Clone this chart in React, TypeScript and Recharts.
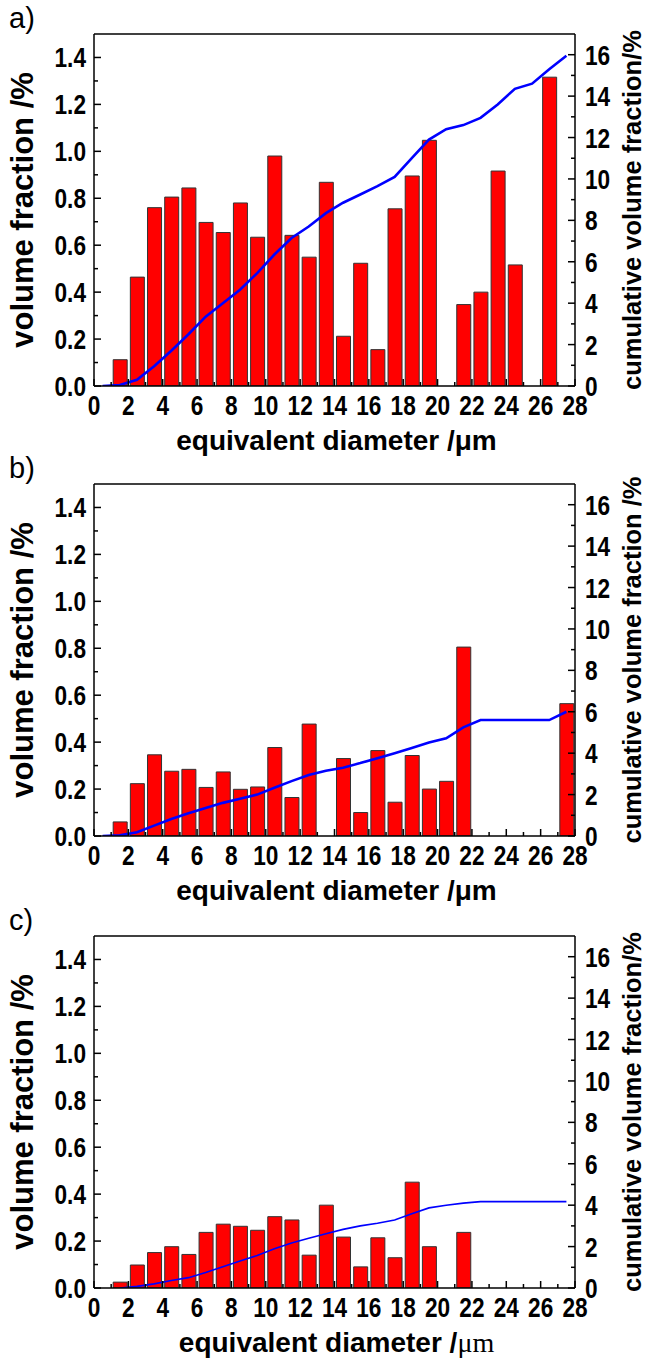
import React from 'react'
import { ComposedChart, Bar, Line, XAxis, YAxis, ReferenceLine } from 'recharts'

// bin centres of the 1 µm size classes
const binCenters = [
  0.5, 1.5, 2.5, 3.5, 4.5, 5.5, 6.5, 7.5, 8.5, 9.5, 10.5, 11.5, 12.5, 13.5,
  14.5, 15.5, 16.5, 17.5, 18.5, 19.5, 20.5, 21.5, 22.5, 23.5, 24.5, 25.5, 26.5, 27.5,
]

const xTicks = [0, 1, 2, 3, 4, 5, 6, 7, 8, 9, 10, 11, 12, 13, 14, 15, 16, 17, 18, 19, 20, 21, 22, 23, 24, 25, 26, 27, 28]
const xLabels = [0, 2, 4, 6, 8, 10, 12, 14, 16, 18, 20, 22, 24, 26, 28]
const leftTicks = [0, 0.1, 0.2, 0.3, 0.4, 0.5, 0.6, 0.7, 0.8, 0.9, 1.0, 1.1, 1.2, 1.3, 1.4]
const leftLabels = ['0.0', '0.2', '0.4', '0.6', '0.8', '1.0', '1.2', '1.4']
const rightTicks = [0, 1, 2, 3, 4, 5, 6, 7, 8, 9, 10, 11, 12, 13, 14, 15, 16]
const rightLabels = [0, 2, 4, 6, 8, 10, 12, 14, 16]

// a)
const fractionA = [
  null, 0.112, 0.464, 0.76, 0.805, 0.844, 0.697, 0.654, 0.78, 0.634, 0.98, 0.642, 0.549, 0.868,
  0.212, 0.523, 0.155, 0.755, 0.895, 1.047, null, 0.347, 0.4, 0.916, 0.516, null, 1.316, null,
]
const cumulativeA = [
  0, 0.05, 0.3, 0.95, 1.7, 2.5, 3.35, 4.0, 4.65, 5.45, 6.35, 7.15, 7.7, 8.35,
  8.85, 9.25, 9.65, 10.1, 11.0, 11.9, 12.4, 12.6, 12.95, 13.6, 14.35, 14.6, 15.3, 15.95,
]

// b)
const fractionB = [
  null, 0.06, 0.223, 0.346, 0.276, 0.284, 0.207, 0.273, 0.199, 0.209, 0.377, 0.164, 0.477, null,
  0.33, 0.1, 0.364, 0.144, 0.343, 0.2, 0.233, 0.805, null, null, null, null, null, 0.564,
]
const cumulativeB = [
  0, 0.03, 0.18, 0.5, 0.82, 1.1, 1.35, 1.6, 1.8, 2.0, 2.33, 2.65, 2.95, 3.15,
  3.3, 3.52, 3.76, 4.0, 4.25, 4.52, 4.72, 5.25, 5.6, 5.6, 5.6, 5.6, 5.6, 6.0,
]

// c)
const fractionC = [
  null, 0.025, 0.098, 0.151, 0.176, 0.143, 0.237, 0.272, 0.263, 0.246, 0.304, 0.29, 0.14, 0.353,
  0.217, 0.09, 0.214, 0.129, 0.451, 0.176, null, 0.237, null, null, null, null, null, null,
]
const cumulativeC = [
  null, 0, 0.08, 0.2, 0.36, 0.5, 0.75, 1.03, 1.3, 1.57, 1.9, 2.17, 2.4, 2.62,
  2.83, 3.0, 3.13, 3.28, 3.59, 3.87, 4.0, 4.1, 4.17, 4.17, 4.17, 4.17, 4.17, 4.17,
]

const FONT = "'Liberation Sans', Arial, Helvetica, sans-serif"
const PLOT_TOP = 34
const PLOT_H = 352
const PLOT_LEFT = 94
const PLOT_RIGHT = 575
const MARGIN = 4

const tickText = {
  fontFamily: FONT,
  fontWeight: 700,
  fontSize: 27,
  fill: '#000',
}

const XTick = (props: any) => {
  const { x, y, payload } = props
  const v = payload.value
  const axisY = y - MARGIN
  const major = xLabels.includes(v)
  return (
    <g>
      <line x1={x} x2={x} y1={axisY} y2={axisY - (major ? 7 : 4)} stroke="#000" strokeWidth={1.5} />
      {major && (
        <text transform={`translate(${x},${axisY + 29}) scale(0.84,1)`} textAnchor="middle" {...tickText}>
          {v}
        </text>
      )}
    </g>
  )
}

const LeftTick = (props: any) => {
  const { x, y, payload } = props
  const v = payload.value
  const axisX = x + MARGIN
  const label = v.toFixed(1)
  const major = leftLabels.includes(label)
  return (
    <g>
      <line x1={axisX} x2={axisX + (major ? 7 : 4)} y1={y} y2={y} stroke="#000" strokeWidth={1.5} />
      {major && (
        <text transform={`translate(${axisX - 8},${y + 10}) scale(0.84,1)`} textAnchor="end" {...tickText}>
          {label}
        </text>
      )}
    </g>
  )
}

const RightTick = (props: any) => {
  const { x, y, payload } = props
  const v = payload.value
  const axisX = x - MARGIN
  const major = rightLabels.includes(v)
  return (
    <g>
      <line x1={axisX} x2={axisX - (major ? 7 : 4)} y1={y} y2={y} stroke="#000" strokeWidth={1.5} />
      {major && (
        <text transform={`translate(${axisX + 10},${y + 10}) scale(0.84,1)`} textAnchor="start" {...tickText}>
          {v}
        </text>
      )}
    </g>
  )
}

const titleStyle = { fontFamily: FONT, fontWeight: 700, fill: '#000' }

const vTitle = (text: string, cx: number, size: number) => () => {
  const cy = PLOT_TOP + PLOT_H / 2
  return (
    <text
      x={cx}
      y={cy}
      dy="0.36em"
      textAnchor="middle"
      transform={`rotate(-90 ${cx} ${cy})`}
      {...titleStyle}
      fontSize={size}
    >
      {text}
    </text>
  )
}

const xTitle = (serifMicron: boolean) => () => (
  <text x={(PLOT_LEFT + PLOT_RIGHT) / 2 + 2} y={450} textAnchor="middle" {...titleStyle} fontSize={28}>
    {serifMicron ? (
      <>
        equivalent diameter /
        <tspan fontFamily="'Liberation Serif', 'Times New Roman', serif" fontWeight={400}>
          μm
        </tspan>
      </>
    ) : (
      'equivalent diameter /μm'
    )}
  </text>
)

interface PanelProps {
  letter: string
  top: number
  fraction: (number | null)[]
  cumulative: (number | null)[]
  rightTitle: string
  lineWidth: number
  serifMicron?: boolean
}

const CHART_H = 462

const Panel: React.FC<PanelProps> = ({ letter, top, fraction, cumulative, rightTitle, lineWidth, serifMicron }) => {
  const data = binCenters.map((x, i) => ({ x, vf: fraction[i], cum: cumulative[i] }))
  return (
    <div style={{ position: 'absolute', left: 0, top, width: 649, height: CHART_H }}>
      <div
        style={{
          position: 'absolute',
          left: 9,
          top: 2,
          fontFamily: FONT,
          fontSize: 29,
          lineHeight: '32px',
          color: '#000',
        }}
      >
        {letter}
      </div>
      <ComposedChart width={649} height={CHART_H} data={data} margin={{ top: PLOT_TOP, right: 0, bottom: 0, left: 0 }}>
        <XAxis
          dataKey="x"
          type="number"
          domain={[0, 28]}
          ticks={xTicks}
          interval={0}
          allowDataOverflow
          height={CHART_H - PLOT_TOP - PLOT_H}
          tickSize={0}
          tickMargin={MARGIN}
          tick={<XTick />}
          axisLine={{ stroke: '#000', strokeWidth: 1.5 }}
          label={xTitle(!!serifMicron)}
        />
        <YAxis
          yAxisId="left"
          domain={[0, 1.5]}
          ticks={leftTicks}
          interval={0}
          allowDataOverflow
          width={PLOT_LEFT}
          tickSize={0}
          tickMargin={MARGIN}
          tick={<LeftTick />}
          axisLine={{ stroke: '#000', strokeWidth: 1.5 }}
          label={vTitle('volume fraction /%', 22, 31)}
        />
        <YAxis
          yAxisId="right"
          orientation="right"
          domain={[0, 17]}
          ticks={rightTicks}
          interval={0}
          allowDataOverflow
          width={649 - PLOT_RIGHT}
          tickSize={0}
          tickMargin={MARGIN}
          tick={<RightTick />}
          axisLine={{ stroke: '#000', strokeWidth: 1.5 }}
          label={vTitle(rightTitle, 632, 25.5)}
        />
        <ReferenceLine yAxisId="left" y={1.5} stroke="#000" strokeWidth={1.5} />
        <Bar
          yAxisId="left"
          dataKey="vf"
          barSize={14}
          fill="#ff0000"
          stroke="#333"
          strokeWidth={1}
          isAnimationActive={false}
        />
        <Line
          yAxisId="right"
          dataKey="cum"
          type="linear"
          stroke="#0000ff"
          strokeWidth={lineWidth}
          dot={false}
          isAnimationActive={false}
        />
      </ComposedChart>
    </div>
  )
}

export default function App() {
  return (
    <div style={{ position: 'absolute', left: 0, top: 0, width: 649, height: 1364, background: '#fff', overflow: 'hidden' }}>
      <Panel letter="a)" top={0} fraction={fractionA} cumulative={cumulativeA} rightTitle="cumulative volume fraction/%" lineWidth={2.6} />
      <Panel letter="b)" top={450} fraction={fractionB} cumulative={cumulativeB} rightTitle="cumulative volume fraction /%" lineWidth={2.6} />
      <Panel letter="c)" top={902} fraction={fractionC} cumulative={cumulativeC} rightTitle="cumulative volume fraction/%" lineWidth={1.6} serifMicron />
    </div>
  )
}
